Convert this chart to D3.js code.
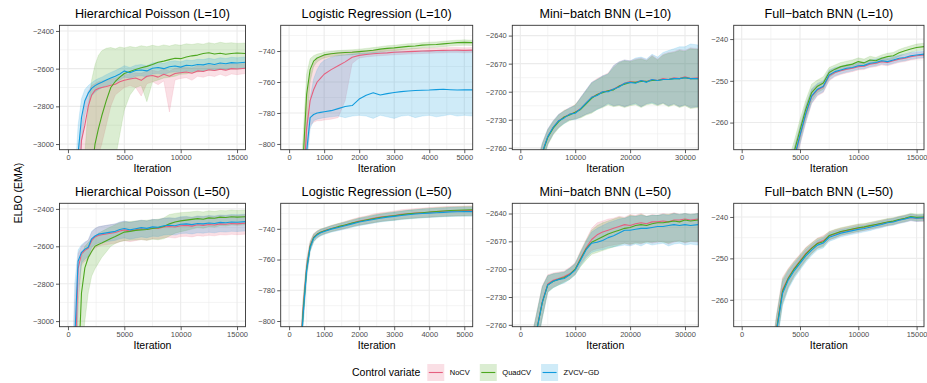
<!DOCTYPE html>
<html>
<head>
<meta charset="utf-8">
<script src="https://cdn.jsdelivr.net/npm/d3@7"></script>
<style>
  body { margin: 0; background: #fff; }
  text { font-family: "Liberation Sans", Arial, Helvetica, sans-serif; }
</style>
</head>
<body>
<svg id="chart" width="927" height="383"></svg>
<script>
// ---- data ----
const methods = ["NoCV", "QuadCV", "ZVCV\u2212GD"];
const colors = ["#E6607F", "#4DA71F", "#109BDD"];
const titles = [
  "Hierarchical Poisson (L=10)", "Logistic Regression (L=10)", "Mini\u2212batch BNN (L=10)", "Full\u2212batch BNN (L=10)",
  "Hierarchical Poisson (L=50)", "Logistic Regression (L=50)", "Mini\u2212batch BNN (L=50)", "Full\u2212batch BNN (L=50)"
];

// Hierarchical Poisson
const hpIter = [0, 600, 900, 1200, 1500, 1800, 2100, 2400, 2700, 3000, 3400, 3800, 4200, 4600, 5000, 5500, 6000, 6500, 7000, 7500, 8000, 8500, 9000, 9500, 10000, 10500, 11000, 11500, 12000, 12500, 13000, 13500, 14000, 14500, 15000, 15750];
const hp10NoCV   = [-4500, -4000, -3300, -2980, -2900, -2800, -2740, -2715, -2705, -2700, -2695, -2688, -2683, -2670, -2662, -2655, -2650, -2662, -2640, -2636, -2645, -2630, -2640, -2626, -2622, -2618, -2624, -2612, -2615, -2606, -2610, -2603, -2608, -2600, -2602, -2598];
const hp10NoCVLo = [-5000, -4500, -4000, -3500, -3300, -3200, -3150, -3100, -3060, -3000, -2900, -2800, -2740, -2720, -2700, -2690, -2700, -2745, -2680, -2670, -2685, -2665, -2830, -2660, -2652, -2648, -2662, -2640, -2646, -2636, -2642, -2630, -2640, -2628, -2632, -2626];
const hp10NoCVHi = [-4000, -3400, -3050, -2900, -2780, -2720, -2690, -2680, -2670, -2665, -2660, -2655, -2650, -2640, -2632, -2628, -2622, -2625, -2612, -2608, -2615, -2600, -2612, -2598, -2594, -2590, -2596, -2585, -2588, -2580, -2584, -2577, -2580, -2574, -2576, -2572];
const hp10Quad   = [-5000, -4600, -4300, -4000, -3700, -3400, -3150, -3000, -2920, -2850, -2770, -2700, -2668, -2645, -2626, -2615, -2605, -2595, -2588, -2578, -2566, -2560, -2552, -2545, -2547, -2538, -2532, -2528, -2520, -2516, -2522, -2518, -2524, -2520, -2517, -2520];
const hp10QuadLo = [-5500, -5200, -5000, -4800, -4600, -4400, -4200, -4000, -3800, -3600, -3400, -3250, -3080, -2950, -2820, -2740, -2700, -2690, -2775, -2670, -2660, -2650, -2645, -2640, -2630, -2628, -2620, -2618, -2612, -2608, -2610, -2604, -2606, -2600, -2602, -2598];
const hp10QuadHi = [-4500, -4000, -3600, -3300, -3050, -2800, -2660, -2580, -2530, -2505, -2492, -2488, -2495, -2485, -2490, -2482, -2488, -2478, -2484, -2476, -2482, -2474, -2480, -2472, -2476, -2468, -2472, -2466, -2470, -2462, -2468, -2460, -2465, -2462, -2466, -2464];
const hp10ZV     = [-4500, -3500, -3050, -2860, -2770, -2730, -2705, -2690, -2680, -2672, -2660, -2650, -2640, -2628, -2612, -2622, -2610, -2607, -2612, -2598, -2594, -2600, -2590, -2586, -2592, -2582, -2585, -2578, -2580, -2573, -2578, -2570, -2574, -2568, -2570, -2566];
const hp10ZVLo   = [-5000, -3900, -3400, -3000, -2850, -2780, -2745, -2725, -2712, -2702, -2690, -2682, -2672, -2660, -2645, -2652, -2640, -2638, -2644, -2628, -2625, -2632, -2620, -2617, -2622, -2612, -2616, -2608, -2611, -2603, -2608, -2600, -2604, -2598, -2600, -2596];
const hp10ZVHi   = [-4000, -3200, -2900, -2760, -2710, -2690, -2675, -2662, -2652, -2645, -2632, -2620, -2610, -2598, -2584, -2594, -2582, -2578, -2584, -2570, -2566, -2572, -2562, -2558, -2564, -2554, -2557, -2550, -2552, -2545, -2550, -2542, -2546, -2540, -2542, -2538];

const hp50NoCV   = [-4600, -3300, -2720, -2640, -2622, -2610, -2570, -2550, -2542, -2538, -2534, -2530, -2526, -2518, -2512, -2518, -2512, -2506, -2510, -2502, -2504, -2496, -2494, -2497, -2490, -2488, -2492, -2485, -2488, -2483, -2486, -2480, -2482, -2478, -2480, -2476];
const hp50NoCVLo = [-5000, -3800, -2900, -2700, -2680, -2668, -2630, -2610, -2600, -2595, -2592, -2588, -2584, -2576, -2570, -2575, -2570, -2564, -2568, -2560, -2562, -2554, -2552, -2556, -2548, -2546, -2550, -2543, -2546, -2541, -2544, -2538, -2540, -2536, -2538, -2535];
const hp50NoCVHi = [-4200, -2900, -2640, -2600, -2580, -2566, -2525, -2505, -2496, -2492, -2488, -2484, -2480, -2472, -2466, -2472, -2466, -2460, -2464, -2456, -2458, -2450, -2448, -2451, -2444, -2442, -2446, -2439, -2442, -2437, -2440, -2434, -2436, -2432, -2434, -2430];
const hp50Quad   = [-5000, -4000, -3300, -2850, -2715, -2660, -2628, -2600, -2590, -2582, -2570, -2558, -2548, -2535, -2524, -2520, -2515, -2512, -2510, -2505, -2500, -2494, -2480, -2470, -2464, -2460, -2456, -2452, -2455, -2448, -2450, -2444, -2446, -2442, -2444, -2442];
const hp50QuadLo = [-5500, -4600, -3700, -3200, -3000, -2850, -2760, -2720, -2690, -2660, -2630, -2600, -2585, -2575, -2570, -2568, -2566, -2564, -2568, -2562, -2565, -2560, -2545, -2530, -2522, -2515, -2508, -2500, -2504, -2495, -2498, -2490, -2492, -2486, -2488, -2485];
const hp50QuadHi = [-4500, -3500, -2900, -2660, -2600, -2580, -2560, -2545, -2530, -2520, -2508, -2495, -2485, -2475, -2470, -2468, -2464, -2462, -2460, -2458, -2455, -2448, -2430, -2424, -2420, -2418, -2415, -2412, -2416, -2410, -2413, -2408, -2410, -2406, -2409, -2406];
const hp50ZV     = [-4500, -3100, -2680, -2632, -2615, -2605, -2560, -2545, -2535, -2532, -2528, -2524, -2520, -2510, -2505, -2512, -2506, -2500, -2504, -2496, -2498, -2490, -2487, -2490, -2482, -2480, -2484, -2478, -2480, -2475, -2478, -2472, -2474, -2470, -2471, -2468];
const hp50ZVLo   = [-4900, -3500, -2850, -2690, -2668, -2655, -2605, -2590, -2582, -2580, -2576, -2572, -2568, -2560, -2555, -2562, -2556, -2550, -2554, -2546, -2548, -2540, -2537, -2540, -2532, -2530, -2534, -2528, -2530, -2525, -2528, -2522, -2524, -2520, -2521, -2518];
const hp50ZVHi   = [-4100, -2800, -2620, -2592, -2577, -2567, -2520, -2505, -2495, -2492, -2488, -2484, -2480, -2470, -2465, -2472, -2466, -2460, -2464, -2456, -2458, -2450, -2447, -2450, -2442, -2440, -2444, -2438, -2440, -2435, -2438, -2432, -2434, -2430, -2431, -2428];

// Logistic regression
const lrIter = [0, 300, 400, 500, 600, 700, 800, 900, 1000, 1200, 1400, 1600, 1800, 2000, 2200, 2400, 2600, 2800, 3000, 3200, 3400, 3600, 3800, 4000, 4200, 4400, 4600, 4800, 5000, 5240];
const lr10NoCV   = [-900, -860, -830, -790, -772, -765, -760, -757.5, -755, -752, -749.5, -747, -744, -742.8, -742.2, -741.8, -741.4, -741.2, -740.8, -740.6, -740.4, -740.2, -740.0, -739.9, -739.7, -739.6, -739.5, -739.4, -739.6, -739.4];
const lr10NoCVLo = [-920, -880, -850, -810, -788, -786, -785, -785, -784.5, -784, -783, -772, -748, -744.5, -743.8, -743.4, -743, -742.8, -742.4, -742.2, -742, -741.8, -741.6, -741.5, -741.3, -741.2, -741, -741, -741.2, -741];
const lr10NoCVHi = [-880, -840, -810, -770, -755, -748, -745, -743.5, -742.5, -741.5, -741, -740.6, -740.3, -740, -739.8, -739.5, -739.2, -739, -738.8, -738.6, -738.5, -738.4, -738.2, -738.1, -738, -737.9, -737.8, -737.7, -737.9, -737.7];
const lr10Quad   = [-900, -850, -810, -768, -752, -746.5, -744.5, -743.5, -742.5, -741.8, -741.3, -741.0, -740.8, -740.4, -740.0, -739.5, -738.8, -738.3, -738.0, -737.5, -737.0, -736.8, -736.2, -736.0, -735.8, -735.4, -735.0, -734.6, -734.4, -734.6];
const lr10QuadLo = [-920, -870, -830, -790, -760, -750, -747, -745.5, -744.5, -743.5, -743, -742.6, -742.5, -742, -741.8, -741.2, -740.6, -740, -739.8, -739.3, -738.9, -738.5, -738, -737.8, -737.6, -737.2, -736.8, -736.5, -736.3, -736.5];
const lr10QuadHi = [-880, -830, -795, -755, -745, -743, -742, -741.5, -740.8, -740.2, -739.7, -739.4, -739.2, -738.8, -738.3, -737.8, -737.2, -736.6, -736.3, -735.8, -735.3, -735.1, -734.6, -734.3, -734.1, -733.7, -733.3, -733.0, -732.8, -733.0];
const lr10ZV     = [-900, -870, -845, -805, -783, -781, -780, -779.6, -779.2, -778.5, -777.2, -775.8, -775.2, -771, -768.5, -767, -768.4, -767.5, -766.8, -766.2, -765.8, -765.5, -765.3, -765.2, -764.9, -764.7, -765.0, -765.2, -765.0, -765.1];
const lr10ZVLo   = [-920, -890, -860, -815, -790, -785, -784, -783.5, -783, -782.5, -782, -783, -782, -781.5, -782, -783.5, -781.5, -782.5, -783.5, -782, -781.5, -783, -782, -781.5, -782.5, -781.8, -781, -782, -781.5, -782];
const lr10ZVHi   = [-880, -850, -825, -790, -770, -758, -752, -748, -746, -744, -743, -742.5, -742, -741.5, -741.2, -741, -740.8, -740.6, -740.5, -740.3, -740.2, -740.1, -740, -739.9, -739.8, -739.8, -739.7, -739.6, -739.7, -739.6];

const lr50NoCV   = [-900, -830, -792, -765, -751, -745.5, -743.4, -742.2, -741.3, -739.8, -738.7, -737.6, -736.2, -735, -734.2, -733.2, -732.4, -731.8, -731.3, -730.6, -730.2, -729.8, -729.5, -729.3, -728.8, -728.6, -728.4, -728.3, -728.1, -728.0];
const lr50NoCVLo = [-910, -840, -800, -770, -754, -748, -745.5, -744.2, -743.2, -741.8, -740.8, -739.8, -738.5, -737.5, -736.8, -736, -735.2, -734.6, -734.2, -733.6, -733.2, -732.8, -732.5, -732.4, -732, -731.8, -731.6, -731.5, -731.4, -731.2];
const lr50NoCVHi = [-890, -820, -785, -760, -748, -743, -741.3, -740.2, -739.4, -737.8, -736.6, -735.2, -733.8, -732.5, -731.6, -730.4, -729.6, -729, -728.4, -727.6, -727.2, -726.8, -726.5, -726.2, -725.8, -725.6, -725.4, -725.3, -725.1, -725.0];
const lr50Quad   = [-900, -832, -794, -766, -751.5, -745.8, -743.6, -742.3, -741.4, -739.9, -738.6, -737.5, -736.3, -735.2, -734.3, -733.4, -732.6, -732, -731.5, -730.9, -730.3, -729.9, -729.5, -729.1, -728.7, -728.4, -728.1, -727.9, -727.8, -727.6];
const lr50QuadLo = [-910, -842, -802, -771, -754.5, -748.3, -745.8, -744.4, -743.4, -741.9, -740.7, -739.7, -738.6, -737.6, -736.8, -736, -735.3, -734.8, -734.4, -733.8, -733.4, -733.1, -732.8, -732.5, -732.2, -732, -731.8, -731.7, -731.6, -731.5];
const lr50QuadHi = [-890, -822, -786, -761, -748.5, -743.4, -741.4, -740.2, -739.4, -737.9, -736.6, -735.4, -734.1, -733, -732, -731, -730.2, -729.5, -729, -728.4, -727.8, -727.4, -727, -726.6, -726.3, -726, -725.8, -725.6, -725.5, -725.4];
const lr50ZV     = [-900, -834, -796, -767, -752.2, -746.2, -744, -742.6, -741.7, -740.2, -739.1, -738, -736.8, -735.6, -734.8, -733.9, -733.1, -732.4, -731.9, -731.3, -730.8, -730.4, -730, -729.8, -729.5, -729.3, -729, -728.9, -728.8, -728.8];
const lr50ZVLo   = [-910, -844, -804, -772, -755, -748.6, -746.2, -744.7, -743.7, -742.2, -741.2, -740.2, -739, -738, -737.2, -736.4, -735.6, -735, -734.6, -734, -733.6, -733.2, -732.9, -732.7, -732.4, -732.2, -732, -731.9, -731.8, -731.8];
const lr50ZVHi   = [-890, -824, -788, -762, -749.4, -743.8, -741.8, -740.5, -739.7, -738.2, -737, -735.8, -734.6, -733.2, -732.4, -731.4, -730.6, -729.8, -729.2, -728.6, -728, -727.6, -727.1, -726.9, -726.6, -726.4, -726.1, -726, -725.9, -725.9];

// Mini-batch BNN
const mbIter = [0, 2000, 4000, 5000, 6000, 7000, 8000, 9000, 10000, 11000, 12000, 13000, 14000, 15000, 16000, 17000, 18000, 19000, 20000, 21000, 22000, 23000, 24000, 25000, 26000, 27000, 28000, 29000, 30000, 31000, 32400];
const mb10NoCV   = [-2900, -2820, -2765, -2748, -2738, -2731, -2727, -2724, -2722, -2718, -2712, -2706, -2703, -2700, -2699, -2697, -2694, -2691, -2689, -2690, -2688, -2689, -2687, -2688, -2686, -2687, -2685, -2686, -2684, -2686, -2685];
const mb10NoCVLo = [-2920, -2840, -2775, -2756, -2745, -2738, -2733, -2730, -2729, -2727, -2724, -2722, -2718, -2716, -2712, -2715, -2714, -2716, -2714, -2712, -2716, -2713, -2711, -2714, -2712, -2715, -2713, -2716, -2714, -2717, -2716];
const mb10NoCVHi = [-2880, -2800, -2755, -2740, -2731, -2724, -2720, -2717, -2714, -2706, -2698, -2690, -2686, -2683, -2680, -2672, -2668, -2666, -2667, -2665, -2664, -2666, -2661, -2665, -2660, -2658, -2657, -2655, -2656, -2653, -2654];
const mb10Quad   = [-2900, -2822, -2766, -2749, -2739, -2732, -2727, -2725, -2722, -2719, -2713, -2707, -2703, -2701, -2699, -2698, -2694, -2692, -2690, -2690, -2689, -2689, -2688, -2688, -2687, -2687, -2686, -2686, -2685, -2686, -2686];
const mb10QuadLo = [-2920, -2842, -2777, -2757, -2746, -2739, -2734, -2731, -2729, -2728, -2725, -2723, -2719, -2717, -2714, -2716, -2715, -2717, -2715, -2714, -2717, -2714, -2713, -2715, -2713, -2716, -2714, -2717, -2715, -2718, -2717];
const mb10QuadHi = [-2880, -2802, -2756, -2741, -2732, -2725, -2720, -2718, -2714, -2707, -2699, -2691, -2687, -2684, -2681, -2674, -2669, -2667, -2668, -2666, -2665, -2667, -2662, -2666, -2661, -2659, -2658, -2656, -2657, -2654, -2655];
const mb10ZV     = [-2900, -2821, -2765, -2748, -2738, -2731, -2728, -2724, -2723, -2718, -2712, -2706, -2704, -2700, -2700, -2697, -2695, -2691, -2690, -2691, -2688, -2690, -2687, -2688, -2687, -2687, -2686, -2686, -2685, -2686, -2686];
const mb10ZVLo   = [-2920, -2841, -2776, -2756, -2745, -2738, -2734, -2730, -2730, -2727, -2724, -2722, -2719, -2716, -2713, -2715, -2714, -2716, -2714, -2713, -2716, -2713, -2712, -2714, -2712, -2715, -2713, -2716, -2714, -2717, -2716];
const mb10ZVHi   = [-2880, -2801, -2755, -2740, -2731, -2724, -2721, -2717, -2715, -2706, -2698, -2690, -2687, -2683, -2681, -2672, -2668, -2666, -2667, -2664, -2663, -2665, -2660, -2663, -2658, -2656, -2654, -2652, -2652, -2649, -2650];

const mb50NoCV   = [-2950, -2795, -2735, -2716, -2712, -2710, -2708, -2705, -2700, -2688, -2677, -2668, -2663, -2660, -2658, -2656, -2654, -2652, -2653, -2651, -2650, -2651, -2649, -2649, -2648, -2649, -2647, -2647, -2646, -2647, -2646];
const mb50NoCVLo = [-2970, -2815, -2752, -2724, -2719, -2716, -2713, -2710, -2705, -2694, -2686, -2680, -2678, -2677, -2675, -2674, -2673, -2672, -2674, -2671, -2673, -2670, -2672, -2671, -2670, -2673, -2671, -2669, -2672, -2670, -2671];
const mb50NoCVHi = [-2930, -2775, -2718, -2706, -2704, -2703, -2702, -2698, -2693, -2680, -2668, -2656, -2650, -2648, -2646, -2645, -2643, -2644, -2641, -2642, -2640, -2643, -2641, -2642, -2640, -2641, -2639, -2641, -2640, -2641, -2640];
const mb50Quad   = [-2950, -2795, -2736, -2717, -2713, -2711, -2709, -2706, -2700, -2689, -2678, -2671, -2668, -2665, -2662, -2660, -2658, -2656, -2655, -2653, -2652, -2653, -2651, -2650, -2650, -2649, -2648, -2649, -2647, -2648, -2647];
const mb50QuadLo = [-2970, -2815, -2753, -2725, -2720, -2717, -2714, -2711, -2706, -2697, -2690, -2684, -2682, -2680, -2678, -2676, -2674, -2672, -2673, -2672, -2672, -2671, -2671, -2670, -2671, -2672, -2670, -2670, -2671, -2670, -2670];
const mb50QuadHi = [-2930, -2775, -2719, -2707, -2705, -2704, -2703, -2699, -2694, -2681, -2669, -2658, -2653, -2650, -2648, -2646, -2644, -2645, -2642, -2643, -2641, -2643, -2642, -2642, -2641, -2641, -2640, -2641, -2640, -2641, -2640];
const mb50ZV     = [-2950, -2796, -2736, -2717, -2713, -2711, -2710, -2706, -2701, -2690, -2679, -2672, -2671, -2669, -2666, -2664, -2661, -2658, -2658, -2657, -2656, -2656, -2655, -2654, -2654, -2653, -2652, -2653, -2652, -2653, -2652];
const mb50ZVLo   = [-2970, -2816, -2753, -2725, -2720, -2717, -2715, -2711, -2706, -2696, -2688, -2682, -2680, -2679, -2677, -2676, -2675, -2674, -2675, -2673, -2675, -2672, -2674, -2673, -2672, -2675, -2673, -2672, -2674, -2673, -2674];
const mb50ZVHi   = [-2930, -2776, -2719, -2707, -2705, -2704, -2703, -2699, -2694, -2682, -2670, -2660, -2656, -2653, -2650, -2648, -2646, -2645, -2643, -2643, -2642, -2643, -2642, -2642, -2641, -2642, -2640, -2641, -2640, -2641, -2640];

// Full-batch BNN
const fbIter = [0, 2000, 2500, 3000, 3500, 4000, 4500, 5000, 5500, 6000, 6500, 7000, 7500, 8000, 8500, 9000, 9500, 10000, 10500, 11000, 11500, 12000, 12500, 13000, 13500, 14000, 14500, 15000, 15640];
const fb10NoCV   = [-340, -312, -302, -294, -285, -274, -268.7, -263.2, -258, -253.8, -252.2, -251.5, -248.8, -248, -247.6, -247.2, -247, -246.6, -246.5, -246, -245.8, -245.4, -245.6, -245.2, -244.8, -244.6, -244.2, -244, -243.8];
const fb10NoCVLo = [-345, -316, -306, -297, -288, -277, -271.2, -265.4, -260, -255.5, -253.6, -252.8, -250, -249, -248.5, -248.1, -247.8, -247.4, -247.3, -246.8, -246.6, -246.2, -246.4, -246, -245.6, -245.4, -245, -244.8, -244.6];
const fb10NoCVHi = [-335, -308, -298, -291, -282, -271, -266.2, -261, -256, -252.1, -250.8, -250.2, -247.6, -247, -246.7, -246.3, -246.2, -245.8, -245.7, -245.2, -245, -244.6, -244.8, -244.4, -244, -243.8, -243.4, -243.2, -243];
const fb10Quad   = [-340, -310, -300, -292, -283, -272, -267, -261.8, -256.8, -252.8, -251.3, -250.5, -248, -247.2, -246.6, -246.3, -246, -245.4, -245.7, -245, -245.2, -244.6, -244.2, -244.0, -243.3, -242.8, -242.4, -242, -241.8];
const fb10QuadLo = [-345, -314, -304, -295, -286, -275, -269.5, -264.3, -259, -254.8, -252.8, -252, -249.2, -248.2, -247.6, -247.3, -247, -246.3, -246.6, -245.9, -246, -245.4, -245, -244.8, -244.1, -243.6, -243.2, -242.8, -242.6];
const fb10QuadHi = [-335, -306, -296, -289, -280, -269, -264.5, -259.3, -254.6, -250.8, -249.8, -249, -246.8, -246.2, -245.6, -245.3, -245, -244.5, -244.8, -244.1, -244.4, -243.8, -243.4, -243.2, -242.5, -242, -241.6, -241.2, -241];
const fb10ZV     = [-340, -312, -302, -294, -285, -274, -268.5, -263, -257.8, -253.6, -252, -251.3, -248.6, -247.8, -247.4, -247, -246.8, -246.4, -246.3, -245.8, -245.6, -245.2, -245.4, -245, -244.6, -244.4, -244, -243.8, -243.6];
const fb10ZVLo   = [-345, -316, -306, -297, -288, -277, -271, -265.2, -259.8, -255.3, -253.4, -252.6, -249.8, -248.8, -248.3, -247.9, -247.6, -247.2, -247.1, -246.6, -246.4, -246, -246.2, -245.8, -245.4, -245.2, -244.8, -244.6, -244.4];
const fb10ZVHi   = [-335, -308, -298, -291, -282, -271, -266, -260.8, -255.8, -251.9, -250.6, -250, -247.4, -246.8, -246.5, -246.1, -246, -245.6, -245.5, -245, -244.8, -244.4, -244.6, -244.2, -243.8, -243.6, -243.2, -243, -242.8];

const fb50NoCV   = [-340, -289, -277.5, -266.8, -257.6, -254.6, -252.4, -250.6, -248.8, -247.5, -246.3, -245.7, -244.6, -244.1, -243.6, -243.3, -243, -242.7, -242.5, -242.2, -241.9, -241.6, -241.3, -241.1, -240.7, -240.4, -240.1, -240.3, -240.3];
const fb50NoCVLo = [-345, -293, -281.5, -270.3, -260.6, -256.8, -254.2, -252.2, -250.3, -248.8, -247.5, -246.9, -245.6, -245.1, -244.5, -244.2, -243.9, -243.6, -243.3, -243, -242.7, -242.4, -242.1, -241.9, -241.5, -241.2, -240.9, -241.1, -241.1];
const fb50NoCVHi = [-335, -285, -273.5, -263.3, -254.6, -252.4, -250.6, -249, -247.3, -246.2, -245.1, -244.5, -243.6, -243.1, -242.7, -242.4, -242.1, -241.8, -241.7, -241.4, -241.1, -240.8, -240.5, -240.3, -239.9, -239.6, -239.3, -239.5, -239.5];
const fb50Quad   = [-340, -290, -278, -267, -258, -254.8, -252.6, -250.8, -249, -247.6, -246.4, -246, -244.5, -244, -243.5, -243.2, -242.9, -242.6, -242.4, -242.1, -241.8, -241.5, -241.2, -241, -240.6, -240.3, -239.9, -240.1, -240];
const fb50QuadLo = [-345, -294, -282, -270.5, -261, -257, -254.4, -252.4, -250.5, -248.9, -247.6, -247.2, -245.5, -245, -244.4, -244.1, -243.8, -243.5, -243.2, -242.9, -242.6, -242.3, -242, -241.8, -241.4, -241.1, -240.7, -240.9, -240.8];
const fb50QuadHi = [-335, -286, -274, -263.5, -255, -252.6, -250.8, -249.2, -247.5, -246.3, -245.2, -244.8, -243.5, -243, -242.6, -242.3, -242, -241.7, -241.6, -241.3, -241, -240.7, -240.4, -240.2, -239.8, -239.5, -239.1, -239.3, -239.2];
const fb50ZV     = [-340, -290, -278.5, -267.5, -258.5, -255.2, -253, -251.2, -249.4, -248, -246.8, -246.3, -244.9, -244.4, -243.9, -243.6, -243.3, -243, -242.8, -242.5, -242.1, -241.8, -241.4, -241.2, -240.8, -240.5, -240.1, -240.3, -240.2];
const fb50ZVLo   = [-345, -294, -282.5, -271, -261.5, -257.4, -254.8, -252.8, -250.9, -249.3, -248, -247.5, -245.9, -245.4, -244.8, -244.5, -244.2, -243.9, -243.6, -243.3, -242.9, -242.6, -242.2, -242, -241.6, -241.3, -240.9, -241.1, -241];
const fb50ZVHi   = [-335, -286, -274.5, -264, -255.5, -253, -251.2, -249.6, -247.9, -246.7, -245.6, -245.1, -243.9, -243.4, -243, -242.7, -242.4, -242.1, -242, -241.7, -241.3, -241, -240.6, -240.4, -240, -239.7, -239.3, -239.5, -239.4];

// axis breaks per column
const hpXTicks = [0, 5000, 10000, 15000], hpYTicks = [-3000, -2800, -2600, -2400];
const lrXTicks = [0, 1000, 2000, 3000, 4000, 5000], lrYTicks = [-800, -780, -760, -740];
const mbXTicks = [0, 10000, 20000, 30000], mbYTicks = [-2760, -2730, -2700, -2670, -2640];
const fbXTicks = [0, 5000, 10000, 15000], fbYTicks = [-260, -250, -240];

// ---- layout ----
const colLeft = [59.5, 280.7, 512.3, 733.7];
const colRight = [245.5, 472.7, 698.3, 924];
const rowTop = [25.3, 203.3];
const rowBottom = [149.7, 326.7];

const columns = [
  { xDomain: [-750, 15750], yDomain: [-3030, -2370], xTicks: hpXTicks, yTicks: hpYTicks },
  { xDomain: [-240, 5240], yDomain: [-803.7, -723.4], xTicks: lrXTicks, yTicks: lrYTicks },
  { xDomain: [-1457, 32423], yDomain: [-2762, -2629], xTicks: mbXTicks, yTicks: mbYTicks },
  { xDomain: [-686, 15634], yDomain: [-266.5, -236.7], xTicks: fbXTicks, yTicks: fbYTicks }
];

const panels = [
  { row: 0, col: 0, xs: hpIter, series: [[hp10NoCV, hp10NoCVLo, hp10NoCVHi], [hp10Quad, hp10QuadLo, hp10QuadHi], [hp10ZV, hp10ZVLo, hp10ZVHi]] },
  { row: 0, col: 1, xs: lrIter, series: [[lr10NoCV, lr10NoCVLo, lr10NoCVHi], [lr10Quad, lr10QuadLo, lr10QuadHi], [lr10ZV, lr10ZVLo, lr10ZVHi]] },
  { row: 0, col: 2, xs: mbIter, series: [[mb10NoCV, mb10NoCVLo, mb10NoCVHi], [mb10Quad, mb10QuadLo, mb10QuadHi], [mb10ZV, mb10ZVLo, mb10ZVHi]] },
  { row: 0, col: 3, xs: fbIter, series: [[fb10NoCV, fb10NoCVLo, fb10NoCVHi], [fb10Quad, fb10QuadLo, fb10QuadHi], [fb10ZV, fb10ZVLo, fb10ZVHi]] },
  { row: 1, col: 0, xs: hpIter, series: [[hp50NoCV, hp50NoCVLo, hp50NoCVHi], [hp50Quad, hp50QuadLo, hp50QuadHi], [hp50ZV, hp50ZVLo, hp50ZVHi]] },
  { row: 1, col: 1, xs: lrIter, series: [[lr50NoCV, lr50NoCVLo, lr50NoCVHi], [lr50Quad, lr50QuadLo, lr50QuadHi], [lr50ZV, lr50ZVLo, lr50ZVHi]] },
  { row: 1, col: 2, xs: mbIter, series: [[mb50NoCV, mb50NoCVLo, mb50NoCVHi], [mb50Quad, mb50QuadLo, mb50QuadHi], [mb50ZV, mb50ZVLo, mb50ZVHi]] },
  { row: 1, col: 3, xs: fbIter, series: [[fb50NoCV, fb50NoCVLo, fb50NoCVHi], [fb50Quad, fb50QuadLo, fb50QuadHi], [fb50ZV, fb50ZVLo, fb50ZVHi]] }
];

const svg = d3.select("#chart");
const defs = svg.append("defs");
const fmt = d3.format("d");

// minor breaks halfway between majors (ggplot style), kept inside the domain
function minorBreaks(ticks, domain) {
  const step = ticks[1] - ticks[0];
  const lo = Math.min(...domain), hi = Math.max(...domain);
  const out = [];
  for (let v = ticks[0] - step / 2; v <= ticks[ticks.length - 1] + step; v += step) {
    if (v > lo && v < hi) out.push(v);
  }
  return out;
}

function styleAxis(g) {
  g.select(".domain").remove();
  g.selectAll(".tick line").attr("stroke", "#333333").attr("stroke-width", 0.8);
  g.selectAll(".tick text").attr("fill", "#4D4D4D").style("font-size", "7.5px");
}

panels.forEach((p, k) => {
  const c = columns[p.col];
  const x0 = colLeft[p.col], y0 = rowTop[p.row];
  const w = colRight[p.col] - x0, h = rowBottom[p.row] - y0;

  const x = d3.scaleLinear().domain(c.xDomain).range([0, w]);
  const y = d3.scaleLinear().domain(c.yDomain).range([h, 0]);

  const g = svg.append("g").attr("transform", `translate(${x0},${y0})`);

  // grid
  const grid = g.append("g");
  grid.selectAll(".mx").data(minorBreaks(c.xTicks, c.xDomain)).join("line")
    .attr("x1", d => x(d)).attr("x2", d => x(d)).attr("y1", 0).attr("y2", h)
    .attr("stroke", "#EBEBEB").attr("stroke-width", 0.55);
  grid.selectAll(".my").data(minorBreaks(c.yTicks, c.yDomain)).join("line")
    .attr("x1", 0).attr("x2", w).attr("y1", d => y(d)).attr("y2", d => y(d))
    .attr("stroke", "#EBEBEB").attr("stroke-width", 0.55);
  grid.selectAll(".Mx").data(c.xTicks).join("line")
    .attr("x1", d => x(d)).attr("x2", d => x(d)).attr("y1", 0).attr("y2", h)
    .attr("stroke", "#EBEBEB").attr("stroke-width", 1.1);
  grid.selectAll(".My").data(c.yTicks).join("line")
    .attr("x1", 0).attr("x2", w).attr("y1", d => y(d)).attr("y2", d => y(d))
    .attr("stroke", "#EBEBEB").attr("stroke-width", 1.1);

  // clipped marks
  const clipId = "clip" + k;
  defs.append("clipPath").attr("id", clipId)
    .append("rect").attr("width", w).attr("height", h);
  const plot = g.append("g").attr("clip-path", `url(#${clipId})`);

  const area = d3.area().x(d => x(d[0])).y0(d => y(d[2])).y1(d => y(d[3]));
  const line = d3.line().x(d => x(d[0])).y(d => y(d[1]));

  p.series.forEach(([m, lo, hi], i) => {
    plot.append("path")
      .datum(d3.zip(p.xs, m, lo, hi))
      .attr("d", area)
      .attr("fill", colors[i]).attr("fill-opacity", 0.2)
      .attr("stroke", colors[i]).attr("stroke-opacity", 0.25).attr("stroke-width", 0.5);
  });
  p.series.forEach(([m, lo, hi], i) => {
    plot.append("path")
      .datum(d3.zip(p.xs, m, lo, hi))
      .attr("d", line)
      .attr("fill", "none")
      .attr("stroke", colors[i]).attr("stroke-width", 1.1)
      .attr("stroke-linejoin", "round");
  });

  // border
  g.append("rect").attr("width", w).attr("height", h)
    .attr("fill", "none").attr("stroke", "#333333").attr("stroke-width", 0.9);

  // axes
  g.append("g")
    .call(d3.axisLeft(y).tickValues(c.yTicks).tickFormat(fmt).tickSize(3.5).tickPadding(2))
    .call(styleAxis);
  g.append("g").attr("transform", `translate(0,${h})`)
    .call(d3.axisBottom(x).tickValues(c.xTicks).tickFormat(fmt).tickSize(3.5).tickPadding(1.3))
    .call(styleAxis);

  // title and x-axis title
  g.append("text").attr("x", w / 2).attr("y", -7.7)
    .attr("text-anchor", "middle").style("font-size", "12.6px").attr("fill", "#000")
    .text(titles[k]);
  g.append("text").attr("x", w / 2).attr("y", h + 22.7)
    .attr("text-anchor", "middle").style("font-size", "10.5px").attr("fill", "#000")
    .text("Iteration");
});

// shared y-axis title
svg.append("text")
  .attr("transform", "translate(21.5,193) rotate(-90)")
  .attr("text-anchor", "middle").style("font-size", "10.5px").attr("fill", "#000")
  .text("ELBO (EMA)");

// legend
const legendY = 372.5;
const legend = svg.append("g");
const legendTitle = legend.append("text")
  .attr("x", 352).attr("y", legendY + 3.7)
  .style("font-size", "10.5px").attr("fill", "#000")
  .text("Control variate");
let lx = 352 + legendTitle.node().getComputedTextLength() + 7;
methods.forEach((name, i) => {
  legend.append("rect")
    .attr("x", lx).attr("y", legendY - 8.5).attr("width", 17).attr("height", 17)
    .attr("fill", colors[i]).attr("fill-opacity", 0.2);
  legend.append("line")
    .attr("x1", lx + 1.5).attr("x2", lx + 15.5).attr("y1", legendY).attr("y2", legendY)
    .attr("stroke", colors[i]).attr("stroke-width", 1.1);
  const t = legend.append("text")
    .attr("x", lx + 22.5).attr("y", legendY + 2.7)
    .style("font-size", "7.5px").attr("fill", "#000")
    .text(name);
  lx += 22.5 + t.node().getComputedTextLength() + 10;
});
</script>
</body>
</html>
